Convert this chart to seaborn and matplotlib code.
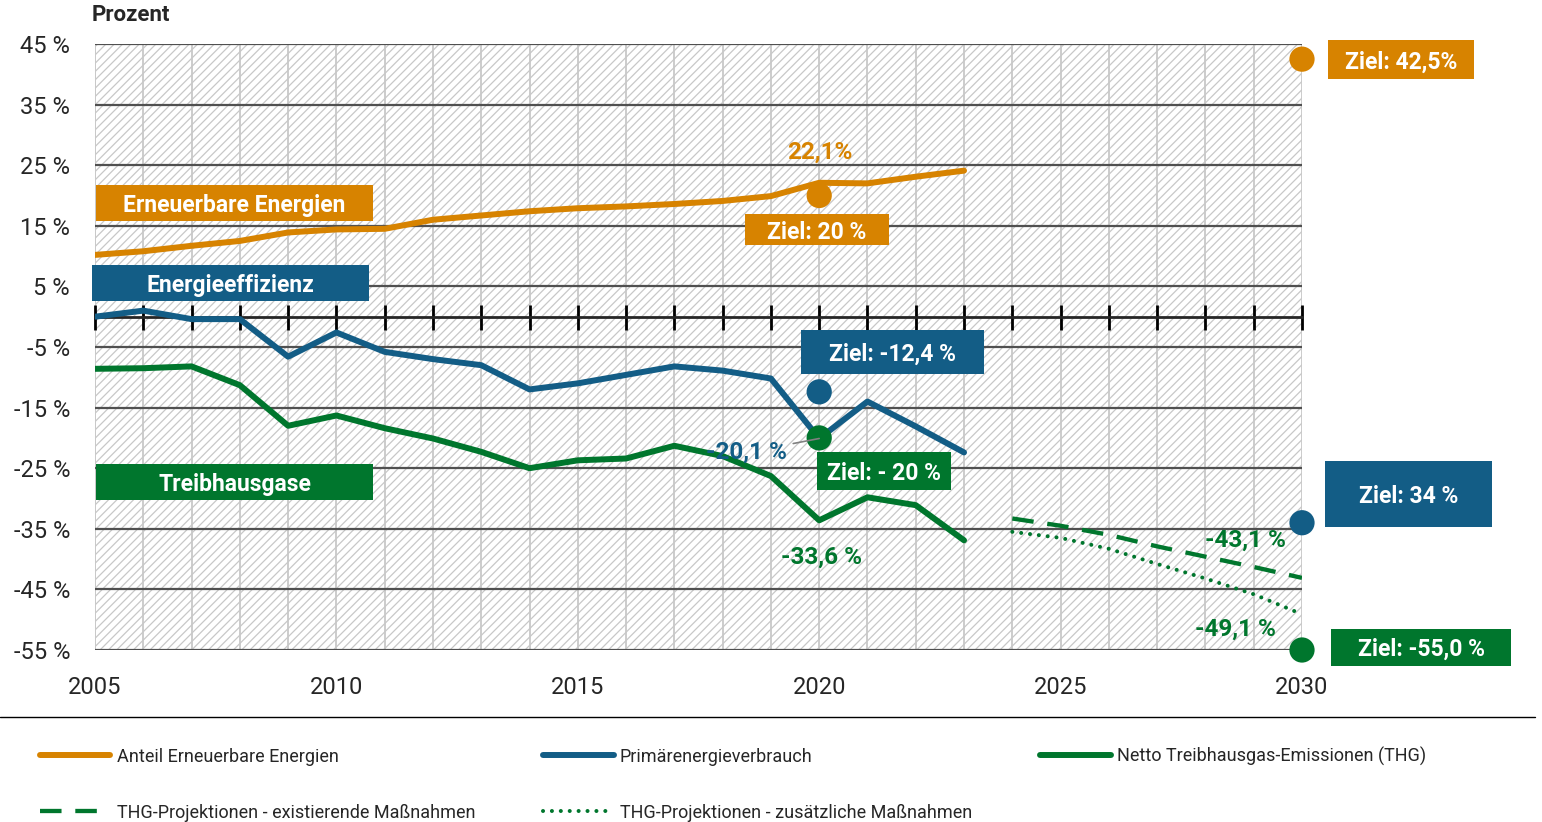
import matplotlib
matplotlib.use("Agg")
import matplotlib.pyplot as plt
from matplotlib.patches import Rectangle
from matplotlib.lines import Line2D
import seaborn as sns
import pandas as pd

sns.set_style("white")
plt.rcParams['font.family'] = ['Roboto', 'DejaVu Sans']
plt.rcParams['hatch.linewidth'] = 0.9

# ---- data ----
jahre = list(range(2005, 2024))
erneuerbare = [10.2, 10.8, 11.7, 12.5, 13.9, 14.4, 14.5, 16.0, 16.7, 17.4,
               17.9, 18.2, 18.6, 19.1, 19.9, 22.1, 22.0, 23.1, 24.1]
primaerenergie = [0.0, 1.0, -0.4, -0.4, -6.6, -2.6, -5.8, -7.0, -8.0, -12.0,
                  -11.0, -9.6, -8.2, -8.9, -10.2, -20.1, -14.0, -18.1, -22.4]
thg = [-8.6, -8.5, -8.2, -11.3, -18.0, -16.3, -18.4, -20.1, -22.3, -25.0,
       -23.7, -23.4, -21.3, -23.0, -26.3, -33.6, -29.8, -31.1, -36.9]

proj_jahre = list(range(2024, 2031))
thg_existierend = [-33.3, -34.5, -36.0, -37.9, -39.6, -41.3, -43.1]
thg_zusaetzlich = [-35.5, -36.5, -38.3, -40.8, -43.2, -45.8, -49.1]

ziel_jahr = [2020, 2030, 2020, 2030, 2020, 2030]
ziel_wert = [20, 42.5, -12.4, -34, -20, -55]
ziel_reihe = ['EE', 'EE', 'PEV', 'PEV', 'THG', 'THG']

y_ticks = [45, 35, 25, 15, 5, -5, -15, -25, -35, -45, -55]
y_labels = ['45 %', '35 %', '25 %', '15 %', '5 %', '-5 %', '-15 %', '-25 %',
            '-35 %', '-45 %', '-55 %']
x_labels = [2005, 2010, 2015, 2020, 2025, 2030]

ORANGE = '#D78300'
BLAU = '#135D86'
GRUEN = '#00762D'
farben = {'EE': ORANGE, 'PEV': BLAU, 'THG': GRUEN}

# ---- figure ----
fig = plt.figure(figsize=(15.42, 8.22), dpi=100)
ax = fig.add_axes([95/1542, 1-650/822, 1207/1542, 606/822])

ax.add_patch(Rectangle((0, 0), 1, 1, transform=ax.transAxes, hatch='////',
                       facecolor='none', edgecolor='#c8c8c8', lw=0.5, zorder=0))

sns.lineplot(x=jahre, y=erneuerbare, color=ORANGE, lw=4.3, ax=ax,
             label='Anteil Erneuerbare Energien', zorder=3)
sns.lineplot(x=jahre, y=primaerenergie, color=BLAU, lw=4.3, ax=ax,
             label='Primärenergieverbrauch', zorder=3)
sns.lineplot(x=jahre, y=thg, color=GRUEN, lw=4.3, ax=ax,
             label='Netto Treibhausgas-Emissionen (THG)', zorder=3)
sns.lineplot(x=proj_jahre, y=thg_existierend, color=GRUEN, lw=3.1, ax=ax,
             linestyle=(0, (5, 3.2)), label='THG-Projektionen - existierende Maßnahmen', zorder=3)
sns.lineplot(x=proj_jahre, y=thg_zusaetzlich, color=GRUEN, lw=2.9, ax=ax,
             linestyle=(0, (0.01, 2.2)), dash_capstyle='round',
             label='THG-Projektionen - zusätzliche Maßnahmen', zorder=3)

ziele = pd.DataFrame({'Jahr': ziel_jahr, 'Wert': ziel_wert, 'Reihe': ziel_reihe})
sns.scatterplot(data=ziele, x='Jahr', y='Wert', hue='Reihe', palette=farben,
                s=330, linewidth=0, legend=False, clip_on=False, zorder=6, ax=ax)

ax.set_xlim(2005, 2030)
ax.set_ylim(-55, 45)

# zero line with yearly ticks
ax.spines['bottom'].set_position(('data', 0))
ax.spines['bottom'].set_linewidth(2)
ax.spines['bottom'].set_zorder(2.5)
for s in ['left', 'right', 'top']:
    ax.spines[s].set_visible(False)
ax.set_xticks(range(2005, 2031))
ax.tick_params(axis='x', bottom=True, direction='inout', length=18, width=2,
               labelbottom=False, color='black')
ax.set_yticks(y_ticks)
ax.set_yticklabels(y_labels, fontsize=17)
ax.tick_params(axis='y', length=0, pad=18)
ax.set_axisbelow(True)
ax.grid(axis='x', color='#c8c8c8', lw=1.3)
ax.grid(axis='y', color='#505050', lw=1.6)
ax.set_xlabel('')
ax.set_ylabel('')
ax.legend().remove()

sec = ax.secondary_xaxis('bottom')
sec.set_xticks(x_labels)
sec.set_xticklabels([str(v) for v in x_labels], fontsize=17)
sec.tick_params(length=0, pad=19)
sec.spines['bottom'].set_visible(False)


def box(x0, x1, y0, y1, text, color):
    ax.add_patch(Rectangle((x0, y0), x1 - x0, y1 - y0, facecolor=color,
                           lw=0, clip_on=False, zorder=7))
    ax.text((x0 + x1) / 2, (y0 + y1) / 2, text, ha='center', va='center_baseline',
            color='white', weight='bold', fontsize=16.5, zorder=8, clip_on=False)


box(2005.02, 2010.76, 15.8, 21.7, 'Erneuerbare Energien', ORANGE)
box(2004.94, 2010.68, 2.6, 8.5, 'Energieeffizienz', BLAU)
box(2005.02, 2010.76, -30.2, -24.3, 'Treibhausgase', GRUEN)
box(2018.46, 2021.44, 11.8, 16.9, 'Ziel: 20 %', ORANGE)
box(2030.54, 2033.56, 39.2, 45.6, 'Ziel: 42,5%', ORANGE)
box(2019.62, 2023.41, -9.5, -2.2, 'Ziel: -12,4 %', BLAU)
box(2019.95, 2022.73, -28.6, -22.3, 'Ziel: - 20 %', GRUEN)
box(2030.48, 2033.94, -34.7, -23.8, 'Ziel: 34 %', BLAU)
box(2030.6, 2034.33, -57.6, -51.5, 'Ziel: -55,0 %', GRUEN)

lab = dict(ha='center', va='center_baseline', weight='bold', fontsize=17.5, zorder=8)
ax.text(2020.02, 27.6, '22,1%', color=ORANGE, **lab)
ax.text(2020.04, -39.3, '-33,6 %', color=GRUEN, **lab)
ax.text(2028.82, -36.5, '-43,1 %', color=GRUEN, **lab)
ax.text(2028.63, -51.2, '-49,1 %', color=GRUEN, **lab)
ax.annotate('-20,1 %', xy=(2020, -20.1), xytext=(2018.5, -22.0), color=BLAU,
            arrowprops=dict(arrowstyle='-', color='#808080', lw=1.2,
                            shrinkA=2, shrinkB=0), **lab)

fig.text(92/1542, 1-15/822, 'Prozent', weight='bold', fontsize=16, va='center')
fig.add_artist(Line2D([0, 1535/1542], [1-717/822, 1-717/822], color='black', lw=1))

handles, labels = ax.get_legend_handles_labels()
order = [0, 3, 1, 4, 2]
fig.legend([handles[i] for i in order], [labels[i] for i in order],
           loc='upper left', bbox_to_anchor=(40/1542, 1-755/822, 1386/1542, 0.01),
           mode='expand', ncol=3, frameon=False, fontsize=13,
           handlelength=3.9, handletextpad=0.35, labelspacing=2.1,
           borderpad=0, borderaxespad=0)

fig.savefig('out.png', dpi=100)
